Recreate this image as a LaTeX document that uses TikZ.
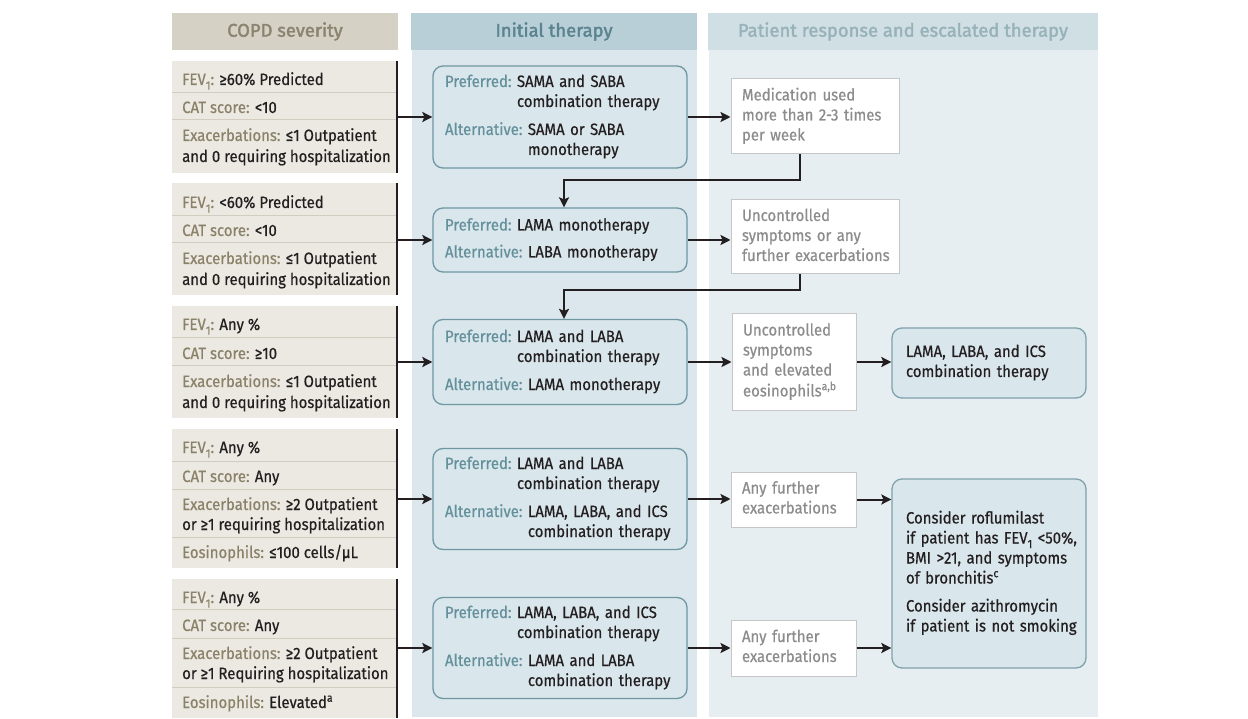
\documentclass[tikz,border=0pt]{standalone}
\usepackage{fontspec}
\setmainfont{Fira Sans}[FakeStretch=0.91, FakeBold=0.5]
\newfontfamily\hdrfont{Fira Sans}[FakeBold=2]
\usetikzlibrary{arrows.meta}
\definecolor{ink}{HTML}{231F20}
\definecolor{hdrL}{HTML}{D6D1C5}
\definecolor{hdrLt}{HTML}{8A836F}
\definecolor{hdrM}{HTML}{B8CFD7}
\definecolor{hdrMt}{HTML}{5B8490}
\definecolor{hdrR}{HTML}{D0DFE4}
\definecolor{hdrRt}{HTML}{98B2BA}
\definecolor{colM}{HTML}{DBE7ED}
\definecolor{colR}{HTML}{E6EEF1}
\definecolor{rowL}{HTML}{ECE9E2}
\definecolor{divL}{HTML}{D3CDC1}
\definecolor{lblL}{HTML}{8A8169}
\definecolor{mbord}{HTML}{6E97A2}
\definecolor{mfill}{HTML}{D9E6EC}
\definecolor{lblM}{HTML}{64909B}
\definecolor{fbord}{HTML}{7FA2AC}
\definecolor{wbord}{HTML}{C6C6C6}
\definecolor{wtext}{HTML}{8C8C8C}
\newcommand\lL[1]{{\color{lblL}#1}}
\newcommand\subone{\raisebox{-0.28em}{\fontsize{12}{12}\selectfont 1}}
\newcommand\prow[2]{{\color{lblM}#1}~\begin{tabular}[t]{@{}l@{}}#2\end{tabular}}
\newcommand\blines[1]{\begin{tabular}{@{}l@{}}#1\end{tabular}}
\tikzset{
  bodyfont/.style={font=\fontsize{16.4}{20}\selectfont},
  hdr/.style={minimum height=37pt, inner sep=0pt, font=\hdrfont\fontsize{18.4}{22}\selectfont},
  rowbox/.style={fill=rowL, minimum width=226pt, inner sep=0pt},
  divline/.style={draw=divL, line width=1pt},
  sideline/.style={draw=ink, line width=2pt},
  ltext/.style={anchor=base west, inner sep=0pt, bodyfont, text=ink},
  mbox/.style={draw=mbord, fill=mfill, line width=1.3pt, rounded corners=10pt,
    text width=230pt, inner xsep=12pt, inner ysep=0pt, align=left, bodyfont, text=ink},
  wbox/.style={draw=wbord, fill=white, line width=1pt, inner xsep=11pt, inner ysep=0pt,
    align=left, bodyfont, text=wtext},
  fbox/.style={draw=fbord, fill=mfill, line width=1.3pt, rounded corners=10pt,
    text width=166pt, inner xsep=14pt, inner ysep=0pt, align=left, bodyfont, text=ink},
  arr/.style={draw=ink, line width=2pt, -{Stealth[length=10pt, width=10pt, inset=2pt]}}
}
\begin{document}
\begin{tikzpicture}[x=1pt, y=-1pt]
\useasboundingbox (0,0) rectangle (1248,719);
% column backgrounds
\fill[colM] (412,50) rectangle (697,717);
\fill[colR] (709,50) rectangle (1098,717);
% headers
\node[hdr, fill=hdrL, text=hdrLt, minimum width=226pt] (HL) at (285,31.5) {COPD severity};
\node[hdr, fill=hdrM, text=hdrMt, minimum width=286pt] (HM) at (554,31.5) {Initial therapy};
\node[hdr, fill=hdrR, text=hdrRt, minimum width=390pt] (HR) at (903,31.5) {Patient response and escalated therapy};
% left rows
\node[rowbox, minimum height=112pt] (L1) at (285,117) {};
\node[rowbox, minimum height=112pt] (L2) at (285,239) {};
\node[rowbox, minimum height=112pt] (L3) at (285,362) {};
\node[rowbox, minimum height=139pt] (L4) at (285,498.5) {};
\node[rowbox, minimum height=139pt] (L5) at (285,648.5) {};
\foreach \yy in {93,120,216,243,338,366,461,489,537,609,638,687}
  \draw[divline] (172,\yy) -- (396,\yy);
\foreach \n in {L1,L2,L3,L4,L5}
  \draw[sideline] ([xshift=-1pt]\n.north east) -- ([xshift=-1pt]\n.south east);
% left texts
\node[ltext] (r1a) at (182,85) {\lL{FEV\subone:} ≥60\% Predicted};
\node[ltext] (r1b) at (182,113) {\lL{CAT score:} <10};
\node[ltext] (r1c) at (182,141) {\lL{Exacerbations:} ≤1 Outpatient};
\node[ltext] (r1d) at (182,162) {and 0 requiring hospitalization};
\node[ltext] (r2a) at (182,208) {\lL{FEV\subone:} <60\% Predicted};
\node[ltext] (r2b) at (182,236) {\lL{CAT score:} <10};
\node[ltext] (r2c) at (182,264) {\lL{Exacerbations:} ≤1 Outpatient};
\node[ltext] (r2d) at (182,285) {and 0 requiring hospitalization};
\node[ltext] (r3a) at (182,330) {\lL{FEV\subone:} Any \%};
\node[ltext] (r3b) at (182,359) {\lL{CAT score:} ≥10};
\node[ltext] (r3c) at (182,387) {\lL{Exacerbations:} ≤1 Outpatient};
\node[ltext] (r3d) at (182,408) {and 0 requiring hospitalization};
\node[ltext] (r4a) at (182,453) {\lL{FEV\subone:} Any \%};
\node[ltext] (r4b) at (182,482) {\lL{CAT score:} Any};
\node[ltext] (r4c) at (182,510) {\lL{Exacerbations:} ≥2 Outpatient};
\node[ltext] (r4d) at (182,530) {or ≥1 requiring hospitalization};
\node[ltext] (r4e) at (182,558) {\lL{Eosinophils:} ≤100 cells/µL};
\node[ltext] (r5a) at (182,603) {\lL{FEV\subone:} Any \%};
\node[ltext] (r5b) at (182,631) {\lL{CAT score:} Any};
\node[ltext] (r5c) at (182,659) {\lL{Exacerbations:} ≥2 Outpatient};
\node[ltext] (r5d) at (182,679) {or ≥1 Requiring hospitalization};
\node[ltext] (r5e) at (182,708) {\lL{Eosinophils:} Elevated\textsuperscript{a}};
% middle boxes
\node[mbox, minimum height=102pt] (M1) at (560,117)
  {\prow{Preferred:}{SAMA and SABA\\combination therapy}\\[7pt]\prow{Alternative:}{SAMA or SABA\\monotherapy}};
\node[mbox, minimum height=64pt] (M2) at (560,240)
  {\prow{Preferred:}{LAMA monotherapy}\\[7pt]\prow{Alternative:}{LABA monotherapy}};
\node[mbox, minimum height=85pt] (M3) at (560,362)
  {\prow{Preferred:}{LAMA and LABA\\combination therapy}\\[7pt]\prow{Alternative:}{LAMA monotherapy}};
\node[mbox, minimum height=101pt] (M4) at (560,499)
  {\prow{Preferred:}{LAMA and LABA\\combination therapy}\\[7pt]\prow{Alternative:}{LAMA, LABA, and ICS\\combination therapy}};
\node[mbox, minimum height=101pt] (M5) at (560,648)
  {\prow{Preferred:}{LAMA, LABA, and ICS\\combination therapy}\\[7pt]\prow{Alternative:}{LAMA and LABA\\combination therapy}};
% white response boxes
\node[wbox, minimum width=168pt, minimum height=75pt, text width=146pt] (W1) at (815,116.5)
  {\blines{Medication used\\more than 2-3 times\\per week}};
\node[wbox, minimum width=168pt, minimum height=74pt, text width=146pt] (W2) at (815,237)
  {\blines{Uncontrolled\\symptoms or any\\further exacerbations}};
\node[wbox, minimum width=124pt, minimum height=96pt, text width=102pt] (W3) at (794,362)
  {\blines{Uncontrolled\\symptoms\\and elevated\\eosinophils\textsuperscript{a,b}}};
\node[wbox, minimum width=125pt, minimum height=55pt, text width=103pt] (W4) at (793.5,499.5)
  {\blines{Any further\\exacerbations}};
\node[wbox, minimum width=125pt, minimum height=56pt, text width=103pt] (W5) at (793.5,648)
  {\blines{Any further\\exacerbations}};
% final boxes
\node[fbox, minimum height=70pt] (F1) at (989,363)
  {\blines{LAMA, LABA, and ICS\\combination therapy}};
\node[fbox, minimum height=189pt] (F2) at (989,573.5)
  {\blines{Consider roflumilast\\if patient has FEV\subone{} <50\%,\\BMI >21, and symptoms\\of bronchitis\textsuperscript{c}\\[8pt]Consider azithromycin\\if patient is not smoking}};
% connectors
\draw[arr] (M1.west -| L1.east) -- (M1.west);
\draw[arr] (M2.west -| L2.east) -- (M2.west);
\draw[arr] (M3.west -| L3.east) -- (M3.west);
\draw[arr] (M4.west -| L4.east) -- (M4.west);
\draw[arr] (M5.west -| L5.east) -- (M5.west);
\draw[arr] (M1.east) -- (M1.east -| W1.west);
\draw[arr] (M2.east) -- (M2.east -| W2.west);
\draw[arr] (M3.east) -- (M3.east -| W3.west);
\draw[arr] (M4.east) -- (M4.east -| W4.west);
\draw[arr] (M5.east) -- (M5.east -| W5.west);
\draw[arr] (W3.east) -- (W3.east -| F1.west);
\draw[arr] (W4.east) -- (W4.east -| F2.west);
\draw[arr] (W5.east) -- (W5.east -| F2.west);
\coordinate (e1) at (564,180);
\coordinate (e2) at (564,290);
\draw[arr] ([xshift=-15pt]W1.south) |- (e1) -- (e1 |- M2.north);
\draw[arr] ([xshift=-15pt]W2.south) |- (e2) -- (e2 |- M3.north);
\end{tikzpicture}
\end{document}
